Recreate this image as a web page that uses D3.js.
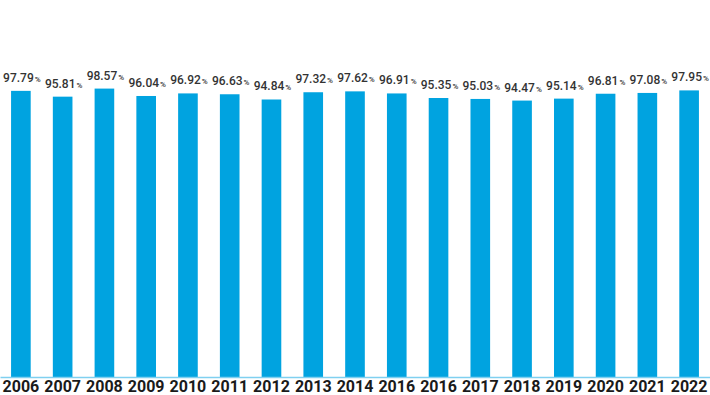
<!DOCTYPE html>
<html lang="en">
<head>
    <meta charset="UTF-8">
    <title>Yearly percentage bars</title>
    <style>
        body {
            margin: 0;
            padding: 0;
            background-color: #ffffff;
        }
        .value-label {
            font-family: Roboto, sans-serif;
            font-weight: 500;
            fill: #333333;
        }
        .x-axis text {
            font-family: Roboto, sans-serif;
            font-weight: 700;
            font-size: 16px;
            fill: #1a1a1a;
        }
    </style>
</head>
<body>
    <div id="chart"></div>
    <script src="https://d3js.org/d3.v7.min.js"></script>
    <script>
        const years = ['2006', '2007', '2008', '2009', '2010', '2011', '2012', '2013', '2014',
                       '2016', '2016', '2017', '2018', '2019', '2020', '2021', '2022'];
        const values = [97.79, 95.81, 98.57, 96.04, 96.92, 96.63, 94.84, 97.32, 97.62,
                        96.91, 95.35, 95.03, 94.47, 95.14, 96.81, 97.08, 97.95];

        const data = years.map((y, i) => ({ idx: i, year: y, value: values[i] }));

        const width = 710;
        const height = 395;
        const baseline = 377;

        const svg = d3.select('#chart').append('svg')
            .attr('width', width)
            .attr('height', height);

        const x = d3.scaleBand()
            .domain(data.map(d => d.idx))
            .range([0, width])
            .paddingInner(0.53)
            .paddingOuter(0.265);

        const y = d3.scaleLinear()
            .domain([0, 100])
            .range([baseline, 84.4]);

        svg.selectAll('rect.bar')
            .data(data)
            .enter().append('rect')
            .attr('class', 'bar')
            .attr('x', d => x(d.idx))
            .attr('y', d => y(d.value))
            .attr('width', x.bandwidth())
            .attr('height', d => baseline - y(d.value))
            .attr('fill', '#00a3e0');

        // value labels, small percent sign
        const labels = svg.selectAll('text.value-label')
            .data(data)
            .enter().append('text')
            .attr('class', 'value-label')
            .attr('x', d => x(d.idx) + x.bandwidth() / 2 + 1)
            .attr('y', d => y(d.value) - 9)
            .attr('text-anchor', 'middle');

        labels.append('tspan')
            .style('font-size', '12px')
            .text(d => d.value.toFixed(2));

        labels.append('tspan')
            .style('font-size', '8px')
            .attr('dx', 1)
            .text('%');

        const xAxis = svg.append('g')
            .attr('class', 'x-axis')
            .attr('transform', `translate(0,${baseline})`)
            .call(d3.axisBottom(x)
                .tickSize(0)
                .tickPadding(4)
                .tickFormat(i => years[i]));

        xAxis.select('.domain')
            .attr('stroke', '#7fd0f0')
            .attr('stroke-width', 1.5);
    </script>
</body>
</html>
